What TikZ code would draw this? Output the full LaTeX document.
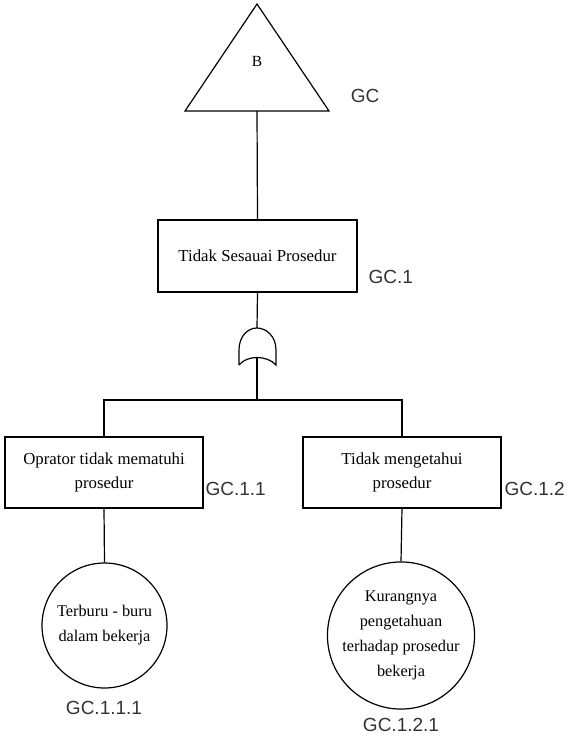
\documentclass[tikz,border=0pt]{standalone}
\usepackage{fontspec}
\setmainfont{Liberation Serif}
\newfontfamily\gcfont{Liberation Sans}
\begin{document}
\begin{tikzpicture}[x=1pt,y=-1pt,line width=1.2pt,
  evbox/.style={draw,rectangle,minimum width=198pt,minimum height=71pt,align=center,inner sep=0pt,font=\fontsize{16.8}{24}\selectfont},
  evcirc/.style={draw,circle,align=center,inner sep=0pt,font=\fontsize{16.3}{25}\selectfont},
  gclabel/.style={font=\gcfont\fontsize{19}{22}\selectfont,text=black!80,inner sep=0pt}]
\useasboundingbox (0,0) rectangle (571,738);
% top triangle
\draw (257,4) -- (329,111) -- (185,111) -- cycle;
\node[font=\fontsize{15.5}{20}\selectfont] (btxt) at (257,61) {B};
\coordinate (tribot) at (257,111);
\node[gclabel] (gc) at (365,96) {GC};
% top event box
\node[evbox,minimum width=199pt,minimum height=72pt,text depth=-6pt] (b1) at (257.5,256) {Tidak Sesauai Prosedur};
\node[gclabel,anchor=west] (gc1) at (368,277) {GC.1};
% OR gate
\coordinate (gtop) at (257,328);
\coordinate (gbot) at (257,357);
\draw (239,365) -- (239,350) .. controls (239,336) and (248,328) .. (gtop)
  .. controls (266,328) and (276,336) .. (276,350) -- (276,365)
  .. controls (267,355) and (247,355) .. (239,365);
\coordinate (j) at (257,400);
% children
\node[evbox] (b2) at (104,472.5) {Oprator tidak mematuhi\\prosedur};
\node[evbox] (b3) at (402,472.5) {Tidak mengetahui\\prosedur};
\node[gclabel,anchor=west] (gc11) at (205,489) {GC.1.1};
\node[gclabel,anchor=west] (gc12) at (504,489) {GC.1.2};
% basic events
\node[evcirc,minimum size=125pt] (c1) at (104.5,625.5) {Terburu - buru\\dalam bekerja};
\node[evcirc,minimum size=144pt] (c2) at (401,635.5) {Kurangnya\\pengetahuan\\terhadap prosedur\\bekerja};
\node[gclabel] (gc111) at (104,708) {GC.1.1.1};
\node[gclabel] (gc121) at (401,725) {GC.1.2.1};
% connectors
\draw (tribot) -- (b1.north);
\draw (b1.south) -- (gtop);
\draw (gbot) -- (j);
\draw (j) -| (b2.north);
\draw (j) -| (b3.north);
\draw (b2.south) -- (c1.north);
\draw (b3.south) -- (c2.north);
\end{tikzpicture}
\end{document}
